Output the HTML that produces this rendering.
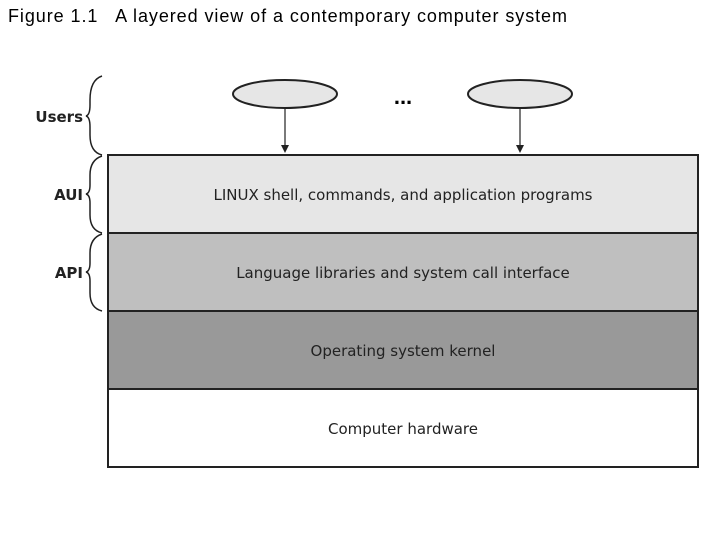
<!DOCTYPE html>
<html><head><style>
body{margin:0;background:#fff;width:720px;height:540px;overflow:hidden}
</style></head><body>
<svg width="720" height="540" xmlns="http://www.w3.org/2000/svg">
<text x="8" y="22" font-family="Liberation Sans, sans-serif" font-size="18" fill="#000" style="white-space:pre" textLength="559" lengthAdjust="spacing">Figure 1.1   A layered view of a contemporary computer system</text>
<rect x="108" y="155" width="590" height="78" fill="#e6e6e6" stroke="#222" stroke-width="2"/>
<rect x="108" y="233" width="590" height="78" fill="#bfbfbf" stroke="#222" stroke-width="2"/>
<rect x="108" y="311" width="590" height="78" fill="#999" stroke="#222" stroke-width="2"/>
<rect x="108" y="389" width="590" height="78" fill="#fff" stroke="#222" stroke-width="2"/>
<g font-family="DejaVu Sans, Liberation Sans, sans-serif" font-size="15" fill="#222" text-anchor="middle">
<text x="403" y="200">LINUX shell, commands, and application programs</text>
<text x="403" y="278">Language libraries and system call interface</text>
<text x="403" y="356">Operating system kernel</text>
<text x="403" y="434">Computer hardware</text>
</g>
<ellipse cx="285" cy="94" rx="52" ry="14" fill="#e6e6e6" stroke="#222" stroke-width="2"/>
<ellipse cx="520" cy="94" rx="52" ry="14" fill="#e6e6e6" stroke="#222" stroke-width="2"/>
<text x="403" y="104" font-family="Liberation Sans, sans-serif" font-size="22" font-weight="bold" text-anchor="middle">...</text>
<g stroke="#222" stroke-width="1.2">
<line x1="285" y1="108" x2="285" y2="148"/><line x1="520" y1="108" x2="520" y2="148"/>
</g>
<polygon points="281,145 289,145 285,153" fill="#222"/>
<polygon points="516,145 524,145 520,153" fill="#222"/>
<g fill="none" stroke="#222" stroke-width="1.5">
<path d="M102,76 Q90,80 90,100 L90,105 Q90,115 86,116 Q90,117 90,127 L90,135 Q90,152 102,155"/>
<path d="M102,156 Q90,160 90,175 L90,185 Q90,193 86,194 Q90,195 90,203 L90,215 Q90,230 102,233"/>
<path d="M102,234 Q90,238 90,253 L90,263 Q90,271 86,272 Q90,273 90,281 L90,293 Q90,308 102,311"/>
</g>
<g font-family="DejaVu Sans, Liberation Sans, sans-serif" font-size="15" font-weight="bold" fill="#222" text-anchor="end">
<text x="83" y="122">Users</text>
<text x="83" y="200">AUI</text>
<text x="83" y="278">API</text>
</g>
</svg>
</body></html>
